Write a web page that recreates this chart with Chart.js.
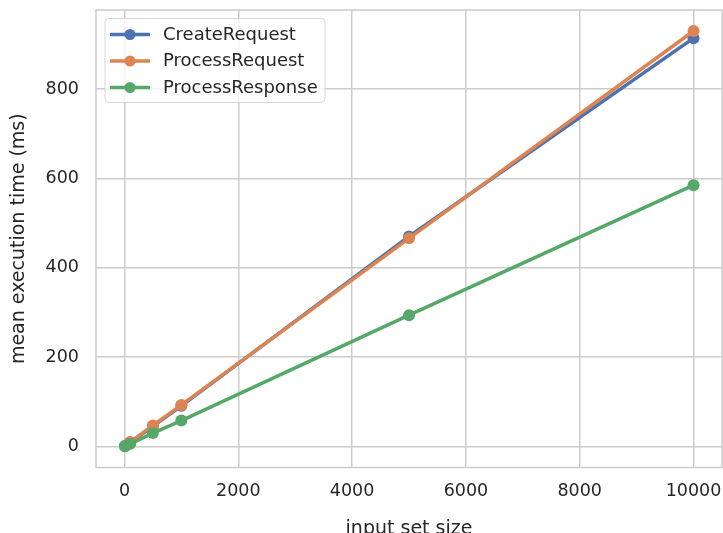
<!DOCTYPE html>
<html>
<head>
<meta charset="utf-8">
<script src="https://cdn.jsdelivr.net/npm/chart.js@4.4.0/dist/chart.umd.min.js"></script>
<style>
  html, body { margin: 0; padding: 0; background: #ffffff; }
  #wrap { width: 723px; height: 533px; position: relative; }
</style>
</head>
<body>
<div id="wrap"><canvas id="timeChart"></canvas></div>
<script>
// input sizes on the x axis
const inputSizes = [10, 100, 500, 1000, 5000, 10000];

// mean execution time (ms) per method
const createRequest   = [1, 9, 45, 91, 470, 914];
const processRequest  = [1, 10, 47, 93, 466, 930];
const processResponse = [0.5, 6, 30, 58, 294, 585];

const seriesNames = ['CreateRequest', 'ProcessRequest', 'ProcessResponse'];
const xTicks = [0, 2000, 4000, 6000, 8000, 10000];
const yTicks = [0, 200, 400, 600, 800];

const colors = ['#4c72b0', '#dd8452', '#55a868'];
const textColor = '#262626';
const gridColor = '#cccccc';
const fontFamily = '"DejaVu Sans", sans-serif';

function toPoints(vals) {
    return inputSizes.map((x, i) => ({ x: x, y: vals[i] }));
}

function makeSet(label, vals, idx) {
    return {
        label: label,
        data: toPoints(vals),
        borderColor: colors[idx],
        backgroundColor: colors[idx],
        pointBackgroundColor: colors[idx],
        pointBorderWidth: 0,
        pointRadius: 6,
        pointHoverRadius: 6,
        borderWidth: 3.5,
        tension: 0,
        order: 3 - idx
    };
}

// frame on all four sides, like the matplotlib axes box
const framePlugin = {
    id: 'frame',
    beforeDatasetsDraw(chart) {
        const { ctx, chartArea: a } = chart;
        ctx.save();
        ctx.strokeStyle = gridColor;
        ctx.lineWidth = 1.5;
        ctx.strokeRect(a.left, a.top, a.right - a.left, a.bottom - a.top);
        ctx.restore();
    }
};

// legend with line + marker samples in the top-left corner
const legendPlugin = {
    id: 'lineLegend',
    afterDraw(chart) {
        const ctx = chart.ctx;
        const bx = 105, by = 18.5, bw = 220, bh = 84, r = 4;
        ctx.save();
        ctx.beginPath();
        ctx.roundRect(bx, by, bw, bh, r);
        ctx.fillStyle = 'rgba(255,255,255,0.8)';
        ctx.fill();
        ctx.strokeStyle = '#d6d6d6';
        ctx.lineWidth = 1;
        ctx.stroke();

        const rows = [34.5, 61, 87.5];
        ctx.font = '18px ' + fontFamily;
        ctx.textBaseline = 'middle';
        ctx.textAlign = 'left';
        seriesNames.forEach((name, i) => {
            const y = rows[i];
            ctx.strokeStyle = colors[i];
            ctx.lineWidth = 3.5;
            ctx.beginPath();
            ctx.moveTo(110, y);
            ctx.lineTo(150, y);
            ctx.stroke();
            ctx.fillStyle = colors[i];
            ctx.beginPath();
            ctx.arc(130, y, 5.5, 0, Math.PI * 2);
            ctx.fill();
            ctx.fillStyle = textColor;
            ctx.fillText(name, 163, y + 0.5);
        });
        ctx.restore();
    }
};

new Chart(document.getElementById('timeChart').getContext('2d'), {
    type: 'line',
    data: {
        datasets: [
            makeSet(seriesNames[0], createRequest, 0),
            makeSet(seriesNames[1], processRequest, 1),
            makeSet(seriesNames[2], processResponse, 2)
        ]
    },
    options: {
        responsive: true,
        maintainAspectRatio: false,
        animation: false,
        layout: { autoPadding: false, padding: { top: 10, right: 1, left: 0, bottom: 0 } },
        plugins: {
            legend: { display: false },
            tooltip: { enabled: false }
        },
        scales: {
            x: {
                type: 'linear',
                min: -500,
                max: 10500,
                afterBuildTicks: (scale) => { scale.ticks = xTicks.map(v => ({ value: v })); },
                afterFit: (scale) => {
                    scale.height = 65.5;
                    scale.paddingLeft = 0;
                    scale.paddingRight = 0;
                },
                grid: { color: gridColor, lineWidth: 1.5, drawTicks: false },
                border: { display: false },
                ticks: {
                    color: textColor,
                    padding: 13,
                    maxRotation: 0,
                    autoSkip: false,
                    font: { family: fontFamily, size: 17.5 },
                    callback: (v) => String(v)
                },
                title: {
                    display: true,
                    text: 'input set size',
                    color: textColor,
                    padding: { top: 0, bottom: -7 },
                    font: { family: fontFamily, size: 19 }
                }
            },
            y: {
                type: 'linear',
                min: -47,
                max: 977,
                afterBuildTicks: (scale) => { scale.ticks = yTicks.map(v => ({ value: v })); },
                afterFit: (scale) => {
                    scale.width = 96;
                    scale.paddingTop = 0;
                    scale.paddingBottom = 0;
                },
                grid: { color: gridColor, lineWidth: 1.5, drawTicks: false },
                border: { display: false },
                ticks: {
                    color: textColor,
                    padding: 17,
                    autoSkip: false,
                    font: { family: fontFamily, size: 17.5 },
                    callback: (v) => String(v)
                },
                title: {
                    display: true,
                    text: 'mean execution time (ms)',
                    color: textColor,
                    padding: { top: 8, bottom: 0 },
                    font: { family: fontFamily, size: 19 }
                }
            }
        }
    },
    plugins: [framePlugin, legendPlugin]
});
</script>
</body>
</html>
